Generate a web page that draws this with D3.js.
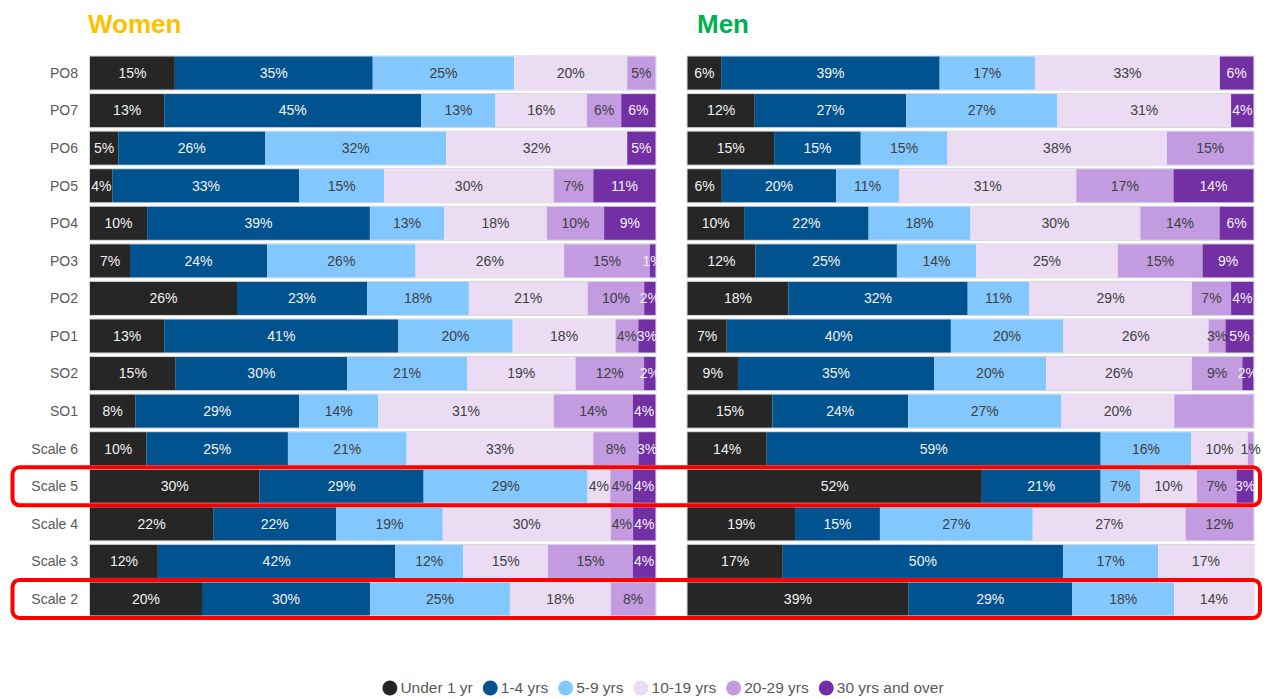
<!DOCTYPE html>
<html>
<head>
<meta charset="utf-8">
<script src="https://cdn.jsdelivr.net/npm/d3@7/dist/d3.min.js"></script>
<style>
  body { margin: 0; background: #fff; }
  svg { display: block; font-family: "Liberation Sans", Arial, sans-serif; }
</style>
</head>
<body>
<div id="chart"></div>
<script>
// categories, top to bottom
var ranks = ["PO8", "PO7", "PO6", "PO5", "PO4", "PO3", "PO2", "PO1",
    "SO2", "SO1", "Scale 6", "Scale 5", "Scale 4", "Scale 3", "Scale 2"];
var bands = ["Under 1 yr", "1-4 yrs", "5-9 yrs", "10-19 yrs", "20-29 yrs", "30 yrs and over"];
var bandColors = ["#262626", "#00538f", "#82c8ff", "#ebdcf3", "#c39be0", "#7330a5"];
var lightText = [true, true, false, false, false, true];

// % in each length-of-service band, one row per rank
var women = [
    [15, 35, 25, 20, 5, 0],
    [13, 45, 13, 16, 6, 6],
    [5, 26, 32, 32, 0, 5],
    [4, 33, 15, 30, 7, 11],
    [10, 39, 13, 18, 10, 9],
    [7, 24, 26, 26, 15, 1],
    [26, 23, 18, 21, 10, 2],
    [13, 41, 20, 18, 4, 3],
    [15, 30, 21, 19, 12, 2],
    [8, 29, 14, 31, 14, 4],
    [10, 25, 21, 33, 8, 3],
    [30, 29, 29, 4, 4, 4],
    [22, 22, 19, 30, 4, 4],
    [12, 42, 12, 15, 15, 4],
    [20, 30, 25, 18, 8, 0]
];
var men = [
    [6, 39, 17, 33, 0, 6],
    [12, 27, 27, 31, 0, 4],
    [15, 15, 15, 38, 15, 0],
    [6, 20, 11, 31, 17, 14],
    [10, 22, 18, 30, 14, 6],
    [12, 25, 14, 25, 15, 9],
    [18, 32, 11, 29, 7, 4],
    [7, 40, 20, 26, 3, 5],
    [9, 35, 20, 26, 9, 2],
    [15, 24, 27, 20, 14, 0],
    [14, 59, 16, 10, 1, 0],
    [52, 21, 7, 10, 7, 3],
    [19, 15, 27, 27, 12, 0],
    [17, 50, 17, 17, 0, 0],
    [39, 29, 18, 14, 0, 0]
];
// segments whose label is not shown in the original
var hiddenLabels = [["Men", "SO1", "20-29 yrs"]];
var highlighted = ["Scale 5", "Scale 2"];

var W = 1269, H = 699;
var svg = d3.select("#chart").append("svg").attr("width", W).attr("height", H);

var y = d3.scaleBand().domain(ranks).range([56.5, 615.5]).paddingInner(0.12);
var color = d3.scaleOrdinal().domain(bands).range(bandColors);

var panels = [
    {name: "Women", data: women, x0: 90, x1: 655.5, title: "#ffc000", tx: 88},
    {name: "Men", data: men, x0: 687.5, x1: 1253.5, title: "#00b050", tx: 697}
];

svg.selectAll("text.ranklabel")
    .data(ranks)
    .enter().append("text")
    .attr("class", "ranklabel")
    .attr("x", 78)
    .attr("y", function(d) { return y(d) + y.bandwidth() / 2; })
    .attr("dy", "0.35em")
    .attr("text-anchor", "end")
    .style("font-size", "14px")
    .style("fill", "#595959")
    .text(function(d) { return d; });

panels.forEach(function(p) {
    svg.append("text")
        .attr("x", p.tx).attr("y", 33)
        .style("font-size", "26px").style("font-weight", "bold")
        .style("fill", p.title)
        .text(p.name);

    var g = svg.append("g");
    p.data.forEach(function(row, i) {
        var rank = ranks[i];
        var total = d3.sum(row);
        var x = d3.scaleLinear().domain([0, total]).range([p.x0, p.x1]);
        var segs = [], acc = 0;
        row.forEach(function(v, j) {
            segs.push({band: bands[j], j: j, v: v, start: acc});
            acc += v;
        });
        segs = segs.filter(function(s) { return s.v > 0; });

        var rg = g.append("g");
        rg.append("rect")
            .attr("x", p.x0 - 0.5).attr("y", y(rank) - 0.5)
            .attr("width", p.x1 - p.x0 + 1).attr("height", y.bandwidth() + 1)
            .attr("fill", "none").attr("stroke", "#d4d4d4");
        rg.selectAll("rect.seg")
            .data(segs)
            .enter().append("rect")
            .attr("class", "seg")
            .attr("x", function(s) { return x(s.start); })
            .attr("y", y(rank))
            .attr("width", function(s) { return x(s.start + s.v) - x(s.start); })
            .attr("height", y.bandwidth())
            .attr("fill", function(s) { return color(s.band); });
        rg.selectAll("text")
            .data(segs.filter(function(s) {
                return !hiddenLabels.some(function(h) {
                    return h[0] == p.name && h[1] == rank && h[2] == s.band;
                });
            }))
            .enter().append("text")
            .attr("x", function(s) { return x(s.start + s.v / 2); })
            .attr("y", y(rank) + y.bandwidth() / 2)
            .attr("dy", "0.35em")
            .attr("text-anchor", "middle")
            .style("font-size", "14px")
            .style("fill", function(s) { return lightText[s.j] ? "#f2f2f2" : "#404040"; })
            .text(function(s) { return s.v + "%"; });
    });
});

// red boxes round the highlighted rows
svg.selectAll("rect.hl")
    .data(highlighted)
    .enter().append("rect")
    .attr("class", "hl")
    .attr("x", 12.5).attr("width", 1247.5)
    .attr("y", function(d) { return y(d) - 2.5; })
    .attr("height", y.bandwidth() + 5)
    .attr("rx", 7)
    .attr("fill", "none")
    .attr("stroke", "#ff0000")
    .attr("stroke-width", 4);

// legend
var legend = svg.append("g");
var lx = 0;
bands.forEach(function(b) {
    var item = legend.append("g").attr("transform", "translate(" + lx + ",0)");
    item.append("circle").attr("cx", 7.5).attr("cy", 0).attr("r", 7.5).attr("fill", color(b));
    var t = item.append("text").attr("x", 18).attr("dy", "0.35em")
        .style("font-size", "15.5px").style("fill", "#595959").text(b);
    lx += 18 + t.node().getComputedTextLength() + 10;
});
legend.attr("transform", "translate(" + (663 - (lx - 10) / 2) + ",688)");
</script>
</body>
</html>
